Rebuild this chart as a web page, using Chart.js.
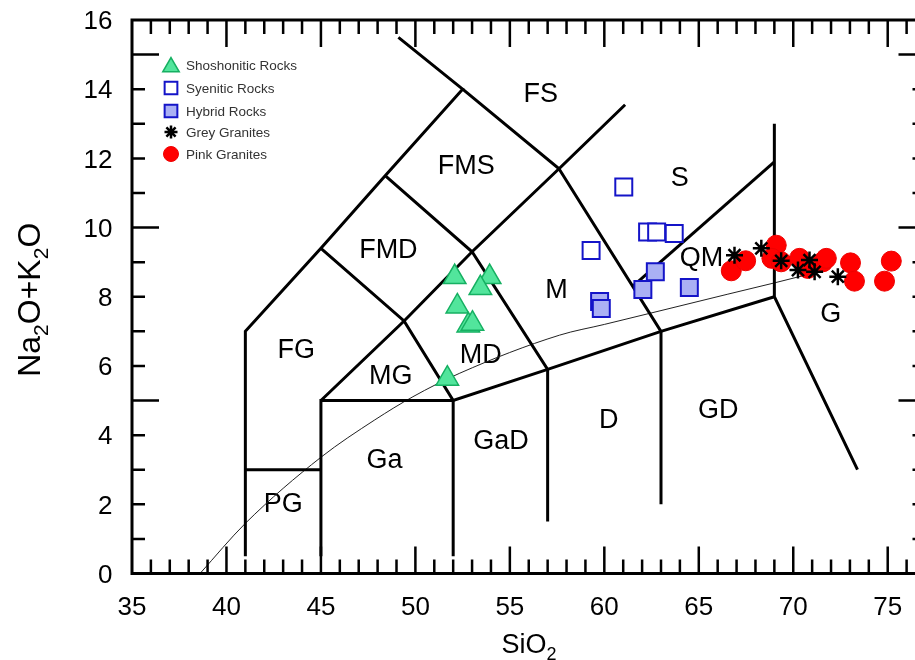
<!DOCTYPE html>
<html>
<head>
<meta charset="utf-8">
<script src="https://cdn.jsdelivr.net/npm/chart.js@4/dist/chart.umd.min.js"></script>
<style>
  html, body { margin: 0; padding: 0; background: #fff; overflow: hidden; }
  canvas { display: block; }
</style>
</head>
<body>
<canvas id="tas" width="940" height="660"></canvas>
<script>
// samples: SiO2 (wt%) and Na2O+K2O (wt%)
const shoshoniticSiO2 = [52.08, 53.93, 53.44, 52.22, 52.8, 53.02, 51.69];
const shoshoniticAlk  = [8.57, 8.57, 8.25, 7.72, 7.17, 7.22, 5.63];

const syeniticSiO2 = [61.03, 59.3, 62.29, 62.77, 63.7];
const syeniticAlk  = [11.17, 9.34, 9.87, 9.87, 9.83];

const hybridSiO2 = [59.75, 59.84, 62.04, 62.7, 64.5];
const hybridAlk  = [7.86, 7.66, 8.21, 8.72, 8.27];

const greySiO2 = [66.89, 68.31, 69.36, 70.86, 70.25, 71.13, 72.36];
const greyAlk  = [9.2, 9.4, 9.04, 9.06, 8.77, 8.72, 8.58];

const pinkSiO2 = [66.72, 67.48, 69.1, 68.87, 69.36, 70.33, 70.77, 71.57, 71.75, 73.03, 73.24, 75.19, 74.83];
const pinkAlk  = [8.75, 9.04, 9.49, 9.11, 9.01, 9.11, 8.82, 9.01, 9.11, 8.98, 8.45, 9.03, 8.45];

// alkaline / subalkaline divide
const divideSiO2 = [38.6, 41, 45, 47.85, 49.87, 52.35, 57.63, 60, 63, 66.5, 69, 70.6];
const divideAlk  = [0, 1.45, 3.36, 4.44, 5.11, 5.79, 6.89, 7.2, 7.6, 8.07, 8.4, 8.62];

// field boundaries (Middlemost plutonic TAS), each a polyline of [SiO2, alk]
const fieldBoundaries = [
  [[41, 0.5], [41, 7], [45, 9.4], [48.4, 11.5], [52.5, 14], [49.1, 15.5]],
  [[52.5, 14], [57.6, 11.7], [61.1, 13.55]],
  [[57.6, 11.7], [63, 7], [63, 2]],
  [[61.5, 8.3], [69, 11.9]],
  [[69, 13], [69, 8], [73.4, 3]],
  [[41, 3], [45, 3]],
  [[45, 0.5], [45, 5], [52, 5], [57, 5.9], [63, 7], [69, 8]],
  [[52, 0.5], [52, 5], [49.4, 7.3], [45, 9.4]],
  [[45, 5], [49.4, 7.3], [53, 9.3], [57.6, 11.7]],
  [[48.4, 11.5], [53, 9.3], [57, 5.9], [57, 1.5]]
];

const fieldNames = ['FS', 'FMS', 'FMD', 'FG', 'MG', 'MD', 'M', 'S', 'QM', 'G', 'GD', 'D', 'GaD', 'Ga', 'PG'];
const fieldSiO2  = [56.63, 52.69, 48.57, 43.7, 48.69, 53.46, 57.47, 63.99, 65.14, 71.98, 66.03, 60.23, 54.53, 48.37, 43.01];
const fieldAlk   = [13.9, 11.84, 9.4, 6.51, 5.76, 6.37, 8.23, 11.48, 9.18, 7.55, 4.77, 4.49, 3.88, 3.32, 2.07];

const xTicks = [35, 40, 45, 50, 55, 60, 65, 70, 75];
const yTicks = [0, 2, 4, 6, 8, 10, 12, 14, 16];

const FONT = '"Liberation Sans", Arial, Helvetica, sans-serif';

function pts(xs, ys) { return xs.map((x, i) => ({ x, y: ys[i] })); }

const samples = [
  { label: 'Shoshonitic Rocks', data: pts(shoshoniticSiO2, shoshoniticAlk), pointStyle: 'triangle', pointRadius: 13,
    backgroundColor: '#52e59c', borderColor: '#16b062', pointBorderWidth: 1.5, legendRadius: 9.5 },
  { label: 'Syenitic Rocks', data: pts(syeniticSiO2, syeniticAlk), pointStyle: 'rect', pointRadius: 12,
    backgroundColor: '#ffffff', borderColor: '#1414c8', pointBorderWidth: 2, legendRadius: 9 },
  { label: 'Hybrid Rocks', data: pts(hybridSiO2, hybridAlk), pointStyle: 'rect', pointRadius: 12,
    backgroundColor: '#aab0f4', borderColor: '#1414c8', pointBorderWidth: 2, legendRadius: 9 },
  { label: 'Grey Granites', data: pts(greySiO2, greyAlk), pointStyle: 'star', pointRadius: 8.5,
    backgroundColor: '#000', borderColor: '#000', pointBorderWidth: 2.5, legendRadius: 6.5 },
  { label: 'Pink Granites', data: pts(pinkSiO2, pinkAlk), pointStyle: 'circle', pointRadius: 10,
    backgroundColor: '#ff0000', borderColor: '#ee0000', pointBorderWidth: 1, legendRadius: 7.5 }
];

const lines = fieldBoundaries.map(seg => ({
  data: seg.map(p => ({ x: p[0], y: p[1] })),
  showLine: true, pointRadius: 0, borderColor: '#000', borderWidth: 3, fill: false
}));
lines.push({
  data: pts(divideSiO2, divideAlk),
  showLine: true, pointRadius: 0, borderColor: '#222', borderWidth: 1, fill: false,
  cubicInterpolationMode: 'monotone'
});

// text with subscripts: parts = [[text, isSub], ...]
function richWidth(ctx, parts, size, subSize) {
  let w = 0;
  parts.forEach(p => { ctx.font = (p[1] ? subSize : size) + 'px ' + FONT; w += ctx.measureText(p[0]).width; });
  return w;
}
function drawRich(ctx, parts, cx, baseline, size, subSize, drop) {
  let x = cx - richWidth(ctx, parts, size, subSize) / 2;
  ctx.textAlign = 'left';
  ctx.textBaseline = 'alphabetic';
  parts.forEach(p => {
    ctx.font = (p[1] ? subSize : size) + 'px ' + FONT;
    ctx.fillText(p[0], x, baseline + (p[1] ? drop : 0));
    x += ctx.measureText(p[0]).width;
  });
}

const fieldLabels = {
  id: 'fieldLabels',
  beforeDatasetsDraw(chart) {
    const { ctx, scales: { x, y } } = chart;
    ctx.save();
    ctx.fillStyle = '#000';
    ctx.font = '27px ' + FONT;
    ctx.textAlign = 'center';
    ctx.textBaseline = 'alphabetic';
    fieldNames.forEach((n, i) => {
      ctx.fillText(n, x.getPixelForValue(fieldSiO2[i]), y.getPixelForValue(fieldAlk[i]) + 9.7);
    });
    ctx.restore();
  }
};

const frame = {
  id: 'frame',
  afterDraw(chart) {
    const { ctx, chartArea: a, scales: { x, y } } = chart;
    ctx.save();
    ctx.strokeStyle = '#000';
    ctx.lineCap = 'butt';

    // inward ticks on all four sides: every 1 unit, long every 5
    ctx.lineWidth = 2.5;
    ctx.beginPath();
    for (let v = 36; v < 77; v++) {
      const px = x.getPixelForValue(v);
      const len = v % 5 === 0 ? 27 : 14;
      ctx.moveTo(px, a.bottom); ctx.lineTo(px, a.bottom - len);
      ctx.moveTo(px, a.top); ctx.lineTo(px, a.top + len);
    }
    for (let v = 1; v < 16; v++) {
      const py = y.getPixelForValue(v);
      const len = v % 5 === 0 ? 27 : 13;
      ctx.moveTo(a.left, py); ctx.lineTo(a.left + len, py);
      ctx.moveTo(a.right, py); ctx.lineTo(a.right - len, py);
    }
    ctx.stroke();

    ctx.lineWidth = 3;
    ctx.strokeRect(a.left, a.top, a.right - a.left, a.bottom - a.top);

    // tick labels
    ctx.fillStyle = '#000';
    ctx.font = '26px ' + FONT;
    ctx.textBaseline = 'alphabetic';
    ctx.textAlign = 'center';
    xTicks.forEach(v => ctx.fillText(String(v), x.getPixelForValue(v), 615));
    ctx.textAlign = 'right';
    yTicks.forEach(v => ctx.fillText(String(v), 112.5, y.getPixelForValue(v) + 9.3));

    // axis titles
    drawRich(ctx, [['SiO', 0], ['2', 1]], 529, 653, 27, 18, 7);
    ctx.save();
    ctx.translate(40, (a.top + a.bottom) / 2 + 3);
    ctx.rotate(-Math.PI / 2);
    drawRich(ctx, [['Na', 0], ['2', 1], ['O+K', 0], ['2', 1], ['O', 0]], 0, 0, 32, 21, 8);
    ctx.restore();

    // legend
    const rows = [65, 88, 111, 132, 154];
    samples.forEach((s, i) => {
      ctx.fillStyle = s.backgroundColor;
      ctx.strokeStyle = s.borderColor;
      ctx.lineWidth = s.pointBorderWidth;
      Chart.helpers.drawPoint(ctx, { pointStyle: s.pointStyle, radius: s.legendRadius, rotation: 0, borderWidth: s.pointBorderWidth },
        171, rows[i] + (s.pointStyle === 'triangle' ? 2 : 0));
      ctx.fillStyle = '#333';
      ctx.font = '13.5px ' + FONT;
      ctx.textAlign = 'left';
      ctx.fillText(s.label, 186, rows[i] + 4.8);
    });
    ctx.restore();
  }
};

new Chart(document.getElementById('tas'), {
  type: 'scatter',
  data: { datasets: samples.concat(lines) },
  options: {
    responsive: false,
    animation: false,
    events: [],
    layout: { padding: { top: 20, right: 14, left: 0, bottom: 0 } },
    plugins: { legend: { display: false }, tooltip: { enabled: false } },
    scales: {
      x: {
        type: 'linear', min: 35, max: 77,
        grid: { display: false }, border: { display: false },
        ticks: { display: false },
        afterFit(s) { s.height = 86.5; }
      },
      y: {
        type: 'linear', min: 0, max: 16,
        grid: { display: false }, border: { display: false },
        ticks: { display: false },
        afterFit(s) { s.width = 132; }
      }
    }
  },
  plugins: [fieldLabels, frame]
});
</script>
</body>
</html>
